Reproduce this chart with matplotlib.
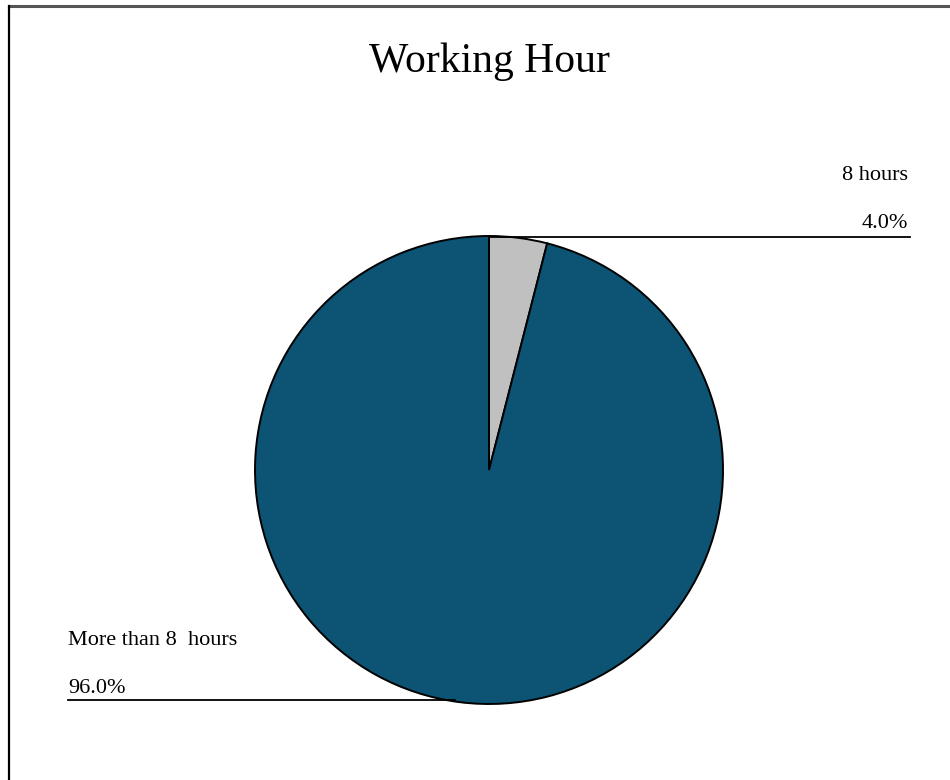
import matplotlib
matplotlib.use("Agg")
import matplotlib.pyplot as plt
from matplotlib.lines import Line2D

# data
labels = ["8 hours", "More than 8  hours"]
values = [4.0, 96.0]
colors = ["#C0C0C0", "#0C5374"]
title = "Working Hour"

plt.rcParams['font.family'] = ['Liberation Serif', 'DejaVu Serif']

fig = plt.figure(figsize=(9.5, 7.8), dpi=100)
ax = fig.add_axes([0, 0, 1, 1])

# work in pixel units, y measured up from the bottom
H = 780
cx, cy, r = 489, H - 470, 234
ax.pie(values, colors=colors, startangle=90, counterclock=False,
       center=(cx, cy), radius=r, frame=True,
       wedgeprops=dict(edgecolor="black", linewidth=1.4))
ax.set_xlim(0, 950)
ax.set_ylim(0, H)
ax.set_aspect("auto")
ax.axis("off")

# title
ax.text(489, H - 72, title, ha="center", va="baseline", fontsize=30)

# label for the small slice (top right)
ax.plot([cx, 910], [H - 237, H - 237], color="black", lw=1.3)
ax.text(908, H - 180, labels[0], ha="right", va="baseline", fontsize=16)
ax.text(908, H - 228, "%.1f%%" % values[0], ha="right", va="baseline", fontsize=16)

# label for the big slice (bottom left)
ax.plot([68, 455], [H - 700, H - 700], color="black", lw=1.3)
ax.text(68, H - 645, labels[1], ha="left", va="baseline", fontsize=16)
ax.text(68, H - 693, "%.1f%%" % values[1], ha="left", va="baseline", fontsize=16)

# chart border (only top and left visible)
fig.add_artist(Line2D([8.5 / 950, 1], [1 - 5.5 / H, 1 - 5.5 / H],
                      transform=fig.transFigure, color="#555555", lw=2.2))
fig.add_artist(Line2D([8.5 / 950, 8.5 / 950], [0, 1 - 5.5 / H],
                      transform=fig.transFigure, color="black", lw=1.6))

fig.savefig("out.png", dpi=100)
